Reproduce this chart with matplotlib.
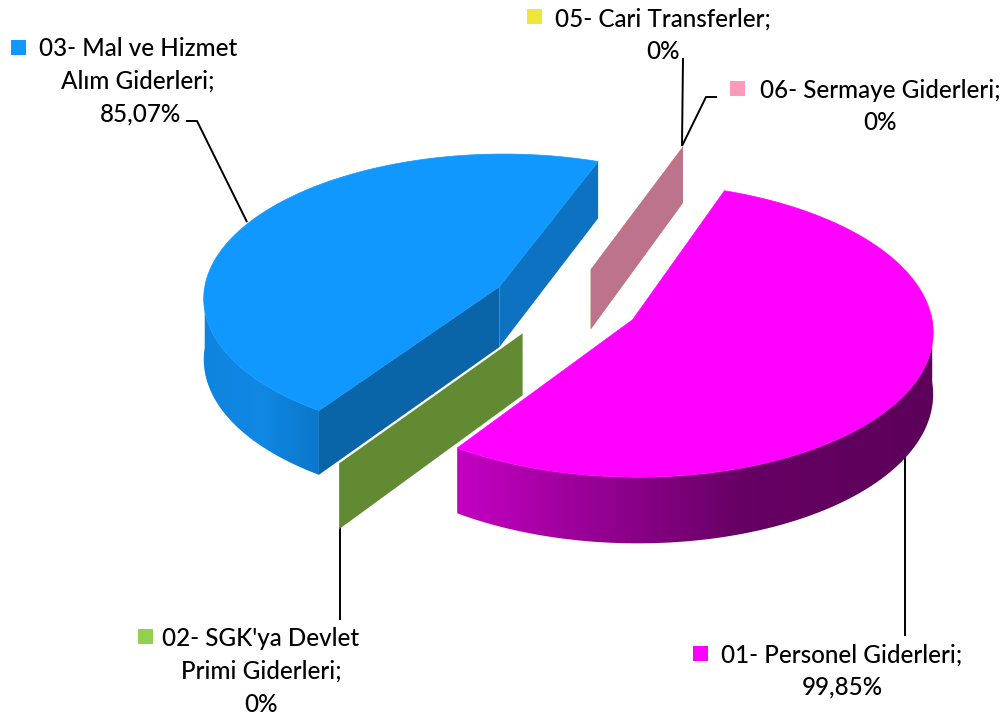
import numpy as np
import matplotlib
matplotlib.use("Agg")
import matplotlib.pyplot as plt
from matplotlib.colors import LinearSegmentedColormap
from matplotlib.patches import Polygon, Rectangle

names = ["01- Personel Giderleri;", "02- SGK'ya Devlet\nPrimi Giderleri;", "03- Mal ve Hizmet\nAlım Giderleri;",
         "05- Cari Transferler;", "06- Sermaye Giderleri;"]
values = [99.85, 0, 85.07, 0, 0]
top_colors = ["#FF00FF", "#92D050", "#1098FF", "#EEE638", "#FF99BB"]
cut_colors = ["#660063", "#628A33", "#0D72C2", "#C4BC30", "#BE738C"]
label_xy = [(842, 655), (261, 639), (138, 49), (663, 19), (880, 90)]
marker_xy = [(693, 646), (138, 629), (11, 40), (527, 9), (730, 81)]

START = 70.0
EXPLODE = 0.252
CX, CY = 565.5, 303.0
RX, RY = 297.0, 144.0
Q = 0.07
DEPTH = 61.0
FONT = 17.4
LINE_H = 32.5


def project(X, Y, z=0.0):
    w = 1 + Q * np.asarray(Y)
    return CX + RX * np.asarray(X) / w, CY - RY * np.asarray(Y) / w + z * DEPTH / w


fig = plt.figure(figsize=(10.06, 7.19), dpi=100)
ax = fig.add_axes([0, 0, 1, 1])
ax.set_xlim(0, 1006)
ax.set_ylim(719, 0)
ax.axis("off")

total = sum(values)
spans = [v / total * 360 for v in values]
ang = START
wedges = []
for v, sp in zip(values, spans):
    a0, a1 = ang, ang - sp
    mid = np.radians((a0 + a1) / 2)
    wedges.append((a0, a1, EXPLODE * np.cos(mid), EXPLODE * np.sin(mid)))
    ang = a1


def edge_poly(ox, oy, a):
    t = np.radians(a)
    X = np.array([ox, ox + np.cos(t)])
    Y = np.array([oy, oy + np.sin(t)])
    x0, y0 = project(X, Y, 0)
    x1, y1 = project(X, Y, 1)
    return np.column_stack([np.r_[x0, x1[::-1]], np.r_[y0, y1[::-1]]])


def draw_wedge(i, cmap, lo, hi, zorder):
    """Outer wall (front part only) with a horizontal gradient; returns the top face outline."""
    a0, a1, ox, oy = wedges[i]
    t = np.radians(np.linspace(a0, a1, 360))
    x0, y0 = project(ox + np.cos(t), oy + np.sin(t), 0)
    front = np.sin(t) <= 0.0
    xw, yw = project(ox + np.cos(t[front]), oy + np.sin(t[front]), 0)
    xb, yb = project(ox + np.cos(t[front]), oy + np.sin(t[front]), 1)
    wall = Polygon(np.column_stack([np.r_[xw, xb[::-1]], np.r_[yw, yb[::-1]]]),
                   fc="none", ec="none", zorder=zorder)
    ax.add_patch(wall)
    grad = np.linspace(0, 1, 512).reshape(1, -1)
    im = ax.imshow(grad, extent=(lo, hi, yb.max() + 2, yw.min() - 2), cmap=cmap,
                   aspect="auto", interpolation="bilinear", zorder=zorder)
    im.set_clip_path(wall)
    ax.set_xlim(0, 1006)
    ax.set_ylim(719, 0)
    ax0, ay0 = project(ox, oy)
    return np.column_stack([np.r_[ax0, x0], np.r_[ay0, y0]])


blue_cmap = LinearSegmentedColormap.from_list("b", ["#0F84DE", "#1088E4", "#0A76C8"])
pink_cmap = LinearSegmentedColormap.from_list(
    "p", [(0, "#C400C2"), (0.34, "#8E008C"), (0.6, "#660063"), (1, "#5C005A")])

# 03 slice
top = draw_wedge(2, blue_cmap, 200, 322, 3)
w = wedges[2]
ax.add_patch(Polygon(edge_poly(w[2], w[3], w[1]), fc="#0D72C2", ec="none", zorder=3))
ax.add_patch(Polygon(edge_poly(w[2], w[3], w[0]), fc="#0A64A8", ec="none", zorder=3))
ax.add_patch(Polygon(top, fc=top_colors[2], ec=top_colors[2], lw=0.5, zorder=3))

# zero-value slices show only their cut face
for i in (1, 3, 4):
    w = wedges[i]
    ax.add_patch(Polygon(edge_poly(w[2], w[3], w[0]), fc=cut_colors[i], ec="none", zorder=3))

# 01 slice
top = draw_wedge(0, pink_cmap, 456, 934, 4)
ax.add_patch(Polygon(top, fc=top_colors[0], ec=top_colors[0], lw=0.5, zorder=4))

# leader lines
leaders = [
    [(905, 450), (905, 636)],
    [(340, 527), (340, 620)],
    [(186, 121), (197, 121), (247, 222)],
    [(683, 58), (682, 146)],
    [(682, 146), (706, 97), (717, 97)],
]
for pts in leaders:
    p = np.array(pts)
    ax.plot(p[:, 0], p[:, 1], color="black", lw=1.4, solid_capstyle="butt", zorder=1.5)

# labels
for name, v, (lx, ly), (mx, my), c in zip(names, values, label_xy, marker_xy, top_colors):
    pct = "0%" if v == 0 else f"{v:.2f}".replace(".", ",") + "%"
    for j, line in enumerate(name.split("\n") + [pct]):
        dx = 3 if line == pct and v > 0 and "\n" in name else 0
        ax.text(lx + dx, ly + j * LINE_H, line, ha="center", va="center", fontsize=FONT,
                family="Lato", weight="medium", color="black", zorder=6)
    ax.add_patch(Rectangle((mx, my), 15, 15, fc=c, ec="none", zorder=6))

fig.savefig("out.png", dpi=100)
